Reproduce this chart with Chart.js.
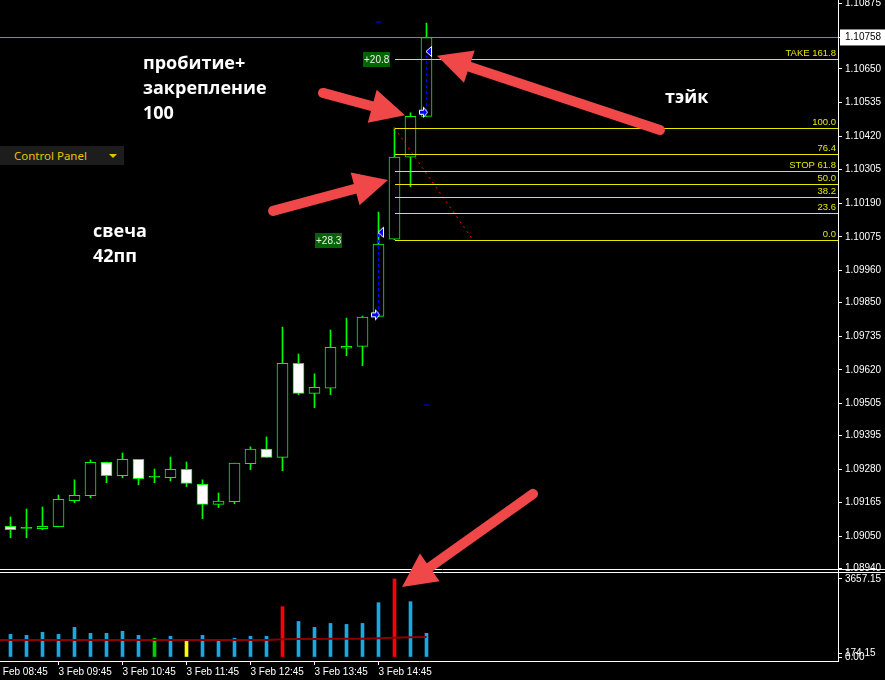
<!DOCTYPE html>
<html><head><meta charset="utf-8">
<script src="https://cdn.jsdelivr.net/npm/chart.js@4/dist/chart.umd.min.js"></script>
<style>
html,body{margin:0;padding:0;background:#000;overflow:hidden}
#wrap{position:relative;width:885px;height:680px;background:#000}
#c{position:absolute;left:0;top:0}
.note{position:absolute;color:#fff;font-weight:bold;font-size:18px;font-family:"Open Sans","DejaVu Sans",sans-serif;line-height:25px;white-space:nowrap}
#cp{position:absolute;left:0;top:146px;width:124px;height:19px;background:#1d1d1d;color:#e6c400;font-size:11.5px;font-family:"Noto Sans","Open Sans",sans-serif;line-height:19px}
#cp span{position:absolute;left:14px;top:0}
#cp i{position:absolute;left:109px;top:8px;width:0;height:0;border-left:4px solid transparent;border-right:4px solid transparent;border-top:4px solid #e6c400}
</style></head><body>
<div id="wrap">
<canvas id="c" width="885" height="680"></canvas>
<div class="note" style="left:143px;top:50px">пробитие+<br>закрепление<br>100</div>
<div class="note" style="left:93px;top:218px">свеча<br>42пп</div>
<div class="note" style="left:665px;top:84px">тэйк</div>
<div id="cp"><span>Control Panel</span><i></i></div>
</div>
<script>
// ---------- data ----------
const barTimes = ["09:00","09:15","09:30","09:45","10:00","10:15","10:30","10:45","11:00","11:15","11:30","11:45","12:00","12:15","12:30","12:45","13:00","13:15","13:30","13:45","14:00","14:15","14:30","14:45","15:00","15:15","15:30"];
const openP  = [1.09084,1.09077,1.09076,1.09083,1.09172,1.09189,1.09303,1.09257,1.09313,1.09252,1.09250,1.09279,1.09228,1.09159,1.09168,1.09298,1.09348,1.09320,1.09642,1.09539,1.09557,1.09694,1.09700,1.09803,1.10067,1.10348,1.10488];
const highP  = [1.09116,1.09143,1.09150,1.09191,1.09243,1.09311,1.09304,1.09335,1.09313,1.09280,1.09321,1.09304,1.09243,1.09198,1.09300,1.09356,1.09390,1.09766,1.09674,1.09606,1.09756,1.09797,1.09804,1.10160,1.10448,1.10500,1.10807];
const lowP   = [1.09045,1.09045,1.09072,1.09082,1.09165,1.09182,1.09233,1.09250,1.09226,1.09233,1.09239,1.09220,1.09110,1.09148,1.09161,1.09278,1.09320,1.09274,1.09535,1.09490,1.09535,1.09668,1.09634,1.09803,1.10065,1.10247,1.10488];
const closeP = [1.09072,1.09077,1.09084,1.09176,1.09190,1.09303,1.09257,1.09313,1.09247,1.09252,1.09279,1.09231,1.09159,1.09170,1.09300,1.09348,1.09320,1.09642,1.09539,1.09560,1.09697,1.09700,1.09800,1.10050,1.10348,1.10488,1.10758];

const volumes = [1065,1018,1157,1065,1389,1111,1111,1204,1018,880,972,741,1018,741,880,972,972,2361,1667,1389,1574,1528,1574,2546,3657,2593,1111];
const volKinds = ["n","n","n","n","n","n","n","n","n","low","n","min","n","n","n","n","n","climax","n","n","n","n","n","n","climax","n","n"];
const volMAPrev = 797;
const volMA = [797,797,797,797,797,797,797,797,797,797,797,797,797,797,797,797,797,830,840,845,850,852,858,880,905,930,935];

const priceTicks = [1.10875,1.10758,1.10650,1.10535,1.10420,1.10305,1.10190,1.10075,1.09960,1.09850,1.09735,1.09620,1.09505,1.09395,1.09280,1.09165,1.09050,1.08940];
const currentPrice = 1.10758;
const volTicks = [3657.15,174.15,0];
const timeTickBars = [-1,3,7,11,15,19,23];
const timeTickLabels = ["3 Feb 08:45","3 Feb 09:45","3 Feb 10:45","3 Feb 11:45","3 Feb 12:45","3 Feb 13:45","3 Feb 14:45"];

const fibLow = 1.10065, fibHigh = 1.10448;
const fibStartBar = 24, fibEndBar = 28.9;
const fibLevels = [0,23.6,38.2,50,61.8,76.4,100,161.8];
const fibLabels = ["0.0","23.6","38.2","50.0","STOP 61.8","76.4","100.0","TAKE 161.8"];

const tradeBar = [23,26];
const tradeEntry = [1.09808,1.10502];
const tradeExit = [1.10091,1.10710];
const tradeProfit = ["+28.3","+20.8"];
const orderMarkBar = [23,26];
const orderMarkPrice = [1.10811,1.09499];

const arrowTail = [[19.53,1.10568],[16.41,1.10164],[40.59,1.10441],[32.66,1.09195]];
const arrowTip  = [[24.66,1.10492],[23.59,1.10270],[26.66,1.10695],[24.47,1.08876]];

// ---------- styles ----------
const GREEN = '#00ff00';
const volColorMap = {n:'#1aa7e4', low:'#00d000', min:'#ffff00', climax:'#ff0000'};
const AXFONT = {family:'"Liberation Sans", Arial, sans-serif', size:10};

function mkEntry(){
  const c=document.createElement('canvas'); c.width=21; c.height=15;
  const g=c.getContext('2d');
  g.beginPath();
  g.moveTo(3.5,5.5);g.lineTo(7.5,5.5);g.lineTo(7.5,2.5);g.lineTo(11.5,7.5);g.lineTo(7.5,12.5);g.lineTo(7.5,9.5);g.lineTo(3.5,9.5);g.closePath();
  g.fillStyle='#0000ff';g.fill();g.strokeStyle='#ffffff';g.lineWidth=1;g.stroke();
  return c;
}
function mkExit(){
  const c=document.createElement('canvas'); c.width=17; c.height=13;
  const g=c.getContext('2d');
  g.beginPath();
  g.moveTo(8,6.5);g.lineTo(13.5,1.5);g.lineTo(13.5,11.5);g.closePath();
  g.fillStyle='#0000ff';g.fill();g.strokeStyle='#ffffff';g.lineWidth=1;g.stroke();
  return c;
}
const entryImg = mkEntry(), exitImg = mkExit();

const idx = barTimes.map((t,i)=>i);
const bodyFill = idx.map(i => closeP[i]===openP[i] ? GREEN : (closeP[i]<openP[i] ? '#ffffff' : '#000000'));
const datasets = [
  {type:'bar', label:'wick', data: idx.map(i=>({x:i,y:[lowP[i],highP[i]]})), yAxisID:'y', barThickness:1, backgroundColor:GREEN, grouped:false, order:5},
  {type:'bar', label:'body', data: idx.map(i=>({x:i,y:[openP[i],closeP[i]]})), yAxisID:'y', barThickness:11, minBarLength:1,
    backgroundColor: bodyFill, borderColor:GREEN, borderWidth:1, borderSkipped:false, grouped:false, order:4},
  {type:'bar', label:'vol', data: idx.map(i=>({x:i,y:volumes[i]})), yAxisID:'yv', barThickness:3,
    backgroundColor: volKinds.map(k=>volColorMap[k]), grouped:false, order:4},
  {type:'line', label:'volma', data: [{x:-1,y:volMAPrev}].concat(idx.map(i=>({x:i,y:volMA[i]}))), yAxisID:'yv', borderColor:'#8b0000', borderWidth:2, pointRadius:0, order:1},
  {type:'line', label:'fibdiag', data:[{x:fibStartBar,y:fibHigh},{x:fibEndBar,y:fibLow}], yAxisID:'y', borderColor:'#ff0000', borderWidth:1, borderDash:[2,4], pointRadius:0, order:1},
  {type:'line', label:'orders', data: orderMarkBar.map((b,k)=>({x:b,y:orderMarkPrice[k]})), yAxisID:'y', showLine:false, pointStyle:'line', pointRadius:3, borderColor:'#0000ff', borderWidth:1, order:1}
];
tradeBar.forEach((b,k)=>{
  datasets.push({type:'line', label:'trade'+k, data:[{x:b,y:tradeEntry[k]},{x:b,y:tradeExit[k]}], yAxisID:'y', borderColor:'#0000ff', borderWidth:1, borderDash:[3,3], pointRadius:0, order:1});
});
datasets.push({type:'line', label:'entries', data: tradeBar.map((b,k)=>({x:b,y:tradeEntry[k]})), yAxisID:'y', showLine:false, pointStyle:entryImg, pointRadius:5, order:0});
datasets.push({type:'line', label:'exits', data: tradeBar.map((b,k)=>({x:b,y:tradeExit[k]})), yAxisID:'y', showLine:false, pointStyle:exitImg, pointRadius:5, order:0});

function drawArrow(g,x1,y1,x2,y2){
  const dx=x2-x1, dy=y2-y1, L=Math.hypot(dx,dy), ux=dx/L, uy=dy/L, px=-uy, py=ux;
  const hl=34, hw=17, sw=10;
  const bx=x2-ux*hl, by=y2-uy*hl;
  g.save(); g.fillStyle=g.strokeStyle='#f04848';
  g.lineWidth=sw; g.lineCap='round';
  g.beginPath(); g.moveTo(x1,y1); g.lineTo(bx+ux*3,by+uy*3); g.stroke();
  g.beginPath(); g.moveTo(x2,y2); g.lineTo(bx+px*hw,by+py*hw); g.lineTo(bx-px*hw,by-py*hw); g.closePath(); g.fill();
  g.restore();
}

const overlay = {
  id:'overlay',
  afterDatasetsDraw(chart){
    const g=chart.ctx, xs=chart.scales.x, ys=chart.scales.y, a=chart.chartArea;
    g.save();
    // bid line
    let yb=Math.round(ys.getPixelForValue(currentPrice))+0.5;
    g.strokeStyle='#778899'; g.lineWidth=1;
    g.beginPath(); g.moveTo(a.left,yb); g.lineTo(a.right,yb); g.stroke();
    // fib levels
    g.font='9.5px "Liberation Sans", Arial, sans-serif';
    g.textAlign='right'; g.textBaseline='bottom';
    const x0=Math.round(xs.getPixelForValue(fibStartBar));
    fibLevels.forEach((lv,k)=>{
      const pr=fibLow+lv/100*(fibHigh-fibLow);
      const y=Math.round(ys.getPixelForValue(pr))+0.5;
      g.strokeStyle='#e8e800';
      g.beginPath(); g.moveTo(x0,y); g.lineTo(a.right,y); g.stroke();
      g.fillStyle='#e8e800';
      g.fillText(fibLabels[k], a.right-2, y-1);
    });
    // trade profit labels
    g.font='10px "Liberation Sans", Arial, sans-serif';
    g.textAlign='left'; g.textBaseline='middle';
    tradeBar.forEach((b,k)=>{
      const xe=xs.getPixelForValue(b), ye=Math.round(ys.getPixelForValue(tradeExit[k]));
      const w=Math.round(g.measureText(tradeProfit[k]).width)+2;
      const right=Math.round(xe-37);
      g.fillStyle='#006400';
      g.fillRect(right-w, ye+1, w, 15);
      g.fillStyle='#f0f0f0';
      g.fillText(tradeProfit[k], right-w+1, ye+9);
    });
    g.restore();
  },
  afterDraw(chart){
    const g=chart.ctx, xs=chart.scales.x, ys=chart.scales.y;
    g.save();
    // panel separators
    const yb=Math.round(ys.bottom);
    g.strokeStyle='#ffffff'; g.lineWidth=1;
    g.beginPath(); g.moveTo(0,yb-1.5); g.lineTo(chart.width,yb-1.5); g.stroke();
    g.beginPath(); g.moveTo(0,yb+1.5); g.lineTo(chart.width,yb+1.5); g.stroke();
    // annotation arrows
    arrowTail.forEach((t,k)=>{
      const h=arrowTip[k];
      drawArrow(g, xs.getPixelForValue(t[0]), ys.getPixelForValue(t[1]), xs.getPixelForValue(h[0]), ys.getPixelForValue(h[1]));
    });
    g.restore();
  }
};

function zeroPad(s){ s.paddingTop=0; s.paddingBottom=0; s.paddingLeft=0; s.paddingRight=0; }

new Chart(document.getElementById('c'), {
  type:'bar',
  data:{datasets},
  plugins:[overlay],
  options:{
    responsive:false, animation:false, devicePixelRatio:1,
    layout:{padding:0, autoPadding:false},
    plugins:{legend:{display:false}, tooltip:{enabled:false}},
    scales:{
      x:{type:'linear', position:'bottom', min:-0.65625, max:51.71875, bounds:'data', offset:false,
        grid:{display:true, offset:false, drawOnChartArea:false, drawTicks:true, tickLength:4, color:'#ffffff'},
        border:{display:true, color:'#ffffff'},
        ticks:{color:'#ffffff', font:AXFONT, align:'start', padding:1, autoSkip:false, maxRotation:0, minRotation:0,
          callback:(v)=>{const k=timeTickBars.indexOf(v); return k>=0?timeTickLabels[k]:'';}},
        afterBuildTicks:(s)=>{ s.ticks = timeTickBars.map(v=>({value:v})); },
        afterFit:(s)=>{ s.height=19; zeroPad(s); }
      },
      y:{type:'linear', position:'right', stack:'right', stackWeight:571, min:1.089308, max:1.108863, bounds:'data',
        grid:{display:true, drawOnChartArea:false, drawTicks:true, tickLength:4, color:'#ffffff'},
        border:{display:true, color:'#ffffff'},
        ticks:{font:AXFONT, padding:3, autoSkip:false,
          color:(c)=> c.tick && c.tick.value===currentPrice ? '#000000' : '#ffffff',
          showLabelBackdrop:true,
          backdropColor:(c)=> c.tick && c.tick.value===currentPrice ? '#ffffff' : 'rgba(0,0,0,0)',
          backdropPadding:{left:5,right:6,top:2,bottom:2},
          callback:(v)=>Number(v).toFixed(5)},
        afterBuildTicks:(s)=>{ s.ticks = priceTicks.map(v=>({value:v})); },
        afterFit:(s)=>{ s.width=47; zeroPad(s); }
      },
      yv:{type:'linear', position:'right', stack:'right', stackWeight:90, min:-187.5, max:4032, bounds:'data',
        grid:{display:true, drawOnChartArea:false, drawTicks:true, tickLength:4, color:'#ffffff'},
        border:{display:true, color:'#ffffff'},
        ticks:{font:AXFONT, padding:3, autoSkip:false, color:'#ffffff', callback:(v)=>Number(v).toFixed(2)},
        afterBuildTicks:(s)=>{ s.ticks = volTicks.map(v=>({value:v})); },
        afterFit:(s)=>{ s.width=47; zeroPad(s); }
      }
    }
  }
});
</script>
</body></html>
